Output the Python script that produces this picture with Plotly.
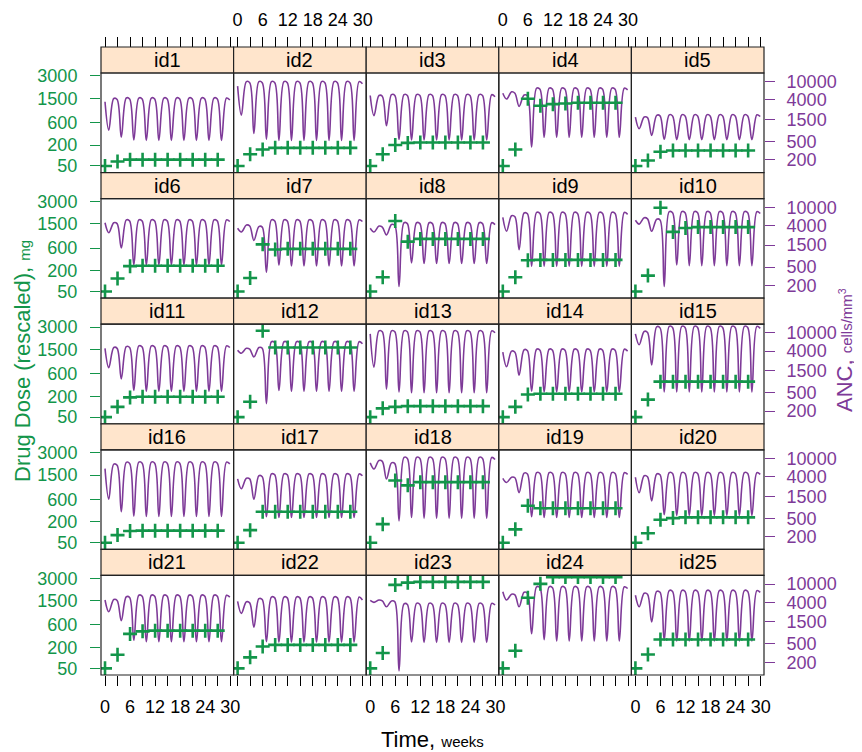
import plotly.graph_objects as go

# ---------------- data ----------------
panel_ids = ["id%d" % i for i in range(1, 26)]

dose_weeks = [0, 3, 6, 9, 12, 15, 18, 21, 24, 27]
# ANC read at: start, then per 3-week cycle: nadir, peak, pre-dose level
anc_weeks = [0,
             0.9, 2.1, 2.9, 3.9, 5.1, 5.9, 6.9, 8.1, 8.9, 9.9, 11.1, 11.9,
             12.9, 14.1, 14.9, 15.9, 17.1, 17.9, 18.9, 20.1, 20.9, 21.9, 23.1, 23.9,
             24.9, 26.1, 26.9, 27.9, 29.1, 29.9]

week_ticks = [0, 3, 6, 9, 12, 15, 18, 21, 24, 27, 30]
week_labels = ["0", "", "6", "", "12", "", "18", "", "24", "", "30"]
dose_ticks = [50, 200, 600, 1500, 3000]
anc_ticks = [200, 500, 1500, 4000, 10000]

# drug dose (mg) at each dosing week
dose_id1 = [50, 70, 80, 80, 80, 80, 80, 80, 80, 80]
dose_id2 = [50, 115, 155, 170, 170, 170, 170, 170, 170, 170]
dose_id3 = [50, 115, 200, 225, 230, 230, 230, 230, 230, 230]
dose_id4 = [50, 155, 1470, 1150, 1220, 1250, 1280, 1280, 1280, 1280]
dose_id5 = [50, 75, 135, 145, 145, 145, 145, 145, 145, 145]
dose_id6 = [50, 125, 255, 260, 260, 260, 260, 260, 260, 260]
dose_id7 = [50, 130, 700, 565, 580, 580, 580, 580, 580, 580]
dose_id8 = [50, 135, 1650, 780, 870, 870, 870, 870, 870, 870]
dose_id9 = [50, 135, 345, 350, 350, 350, 350, 350, 350, 350]
dose_id10 = [50, 150, 2500, 1130, 1300, 1340, 1340, 1340, 1340, 1340]
dose_id11 = [50, 105, 187, 195, 195, 195, 195, 195, 195, 195]
dose_id12 = [50, 145, 2700, 1600, 1600, 1600, 1600, 1600, 1600, 1600]
dose_id13 = [50, 95, 105, 110, 110, 110, 110, 110, 110, 110]
dose_id14 = [50, 105, 220, 230, 230, 230, 230, 230, 230, 230]
dose_id15 = [50, 165, 420, 420, 420, 420, 420, 420, 420, 420]
dose_id16 = [50, 88, 115, 118, 118, 118, 118, 118, 118, 118]
dose_id17 = [50, 122, 340, 340, 340, 340, 340, 340, 340, 340]
dose_id18 = [50, 175, 1240, 1040, 1170, 1170, 1170, 1170, 1170, 1170]
dose_id19 = [50, 128, 450, 400, 400, 400, 400, 400, 400, 400]
dose_id20 = [50, 100, 225, 245, 255, 255, 255, 255, 255, 255]
dose_id21 = [50, 130, 400, 450, 465, 465, 465, 465, 465, 465]
dose_id22 = [50, 110, 210, 230, 230, 230, 230, 230, 230, 230]
dose_id23 = [50, 145, 2470, 2640, 2700, 2700, 2700, 2700, 2700, 2700]
dose_id24 = [50, 165, 1650, 2550, 3100, 3100, 3100, 3100, 3100, 3100]
dose_id25 = [50, 132, 305, 305, 305, 305, 305, 305, 305, 305]

# ANC (cells/mm3) at anc_weeks
anc_id1 = [3650, 880, 4300, 4100, 620, 4400, 4200, 540, 4400, 4200, 530, 4400, 4200,
           530, 4400, 4200, 530, 4400, 4200, 530, 4400, 4200, 530, 4400, 4200,
           530, 4400, 4200, 530, 4400, 4000]
anc_id2 = [8000, 1870, 10000, 9500, 750, 10000, 9500, 560, 10000, 9500, 530, 10000, 9500,
           530, 10000, 9500, 530, 10000, 9500, 530, 10000, 9500, 530, 10000, 9500,
           530, 10000, 9500, 530, 10000, 9000]
anc_id3 = [5000, 1830, 5000, 4800, 1100, 5200, 5000, 560, 5200, 5000, 540, 5200, 5000,
           540, 5200, 5000, 540, 5200, 5000, 540, 5200, 5000, 540, 5200, 5000,
           540, 5200, 5000, 540, 5200, 4700]
anc_id4 = [5600, 4200, 6000, 5600, 2900, 5100, 4900, 380, 7200, 6800, 620, 7200, 6800,
           620, 7200, 6800, 620, 7200, 6800, 620, 7200, 6800, 620, 7200, 6800,
           620, 7200, 6800, 620, 7200, 6600]
anc_id5 = [1700, 950, 1700, 1650, 680, 1850, 1800, 560, 1900, 1800, 550, 1900, 1800,
           550, 1900, 1800, 550, 1900, 1800, 550, 1900, 1800, 550, 1900, 1800,
           550, 1900, 1800, 550, 1900, 1750]
anc_id6 = [4600, 2800, 4600, 4400, 1300, 5300, 5000, 560, 5300, 5000, 560, 5300, 5000,
           560, 5300, 5000, 560, 5300, 5000, 560, 5300, 5000, 560, 5300, 5000,
           560, 5300, 5000, 560, 5300, 4900]
anc_id7 = [3500, 2900, 4100, 3900, 1900, 3800, 3700, 390, 5300, 5000, 550, 5300, 5000,
           530, 5300, 5000, 530, 5300, 5000, 530, 5300, 5000, 530, 5300, 5000,
           530, 5300, 5000, 530, 5300, 4900]
anc_id8 = [3500, 2900, 3900, 3700, 2500, 4200, 4000, 190, 4600, 4400, 620, 4600, 4400,
           600, 4600, 4400, 600, 4600, 4400, 600, 4600, 4400, 600, 4600, 4400,
           600, 4600, 4400, 600, 4600, 4200]
anc_id9 = [6000, 3000, 6500, 6200, 1200, 7500, 7200, 520, 7700, 7300, 520, 7700, 7300,
           520, 7700, 7300, 520, 7700, 7300, 520, 7700, 7300, 520, 7700, 7300,
           520, 7700, 7300, 520, 7700, 7000]
anc_id10 = [5200, 4300, 5900, 5600, 3000, 5500, 5300, 190, 8000, 7600, 560, 8000, 7600,
            540, 8000, 7600, 540, 8000, 7600, 540, 8000, 7600, 540, 8000, 7600,
            540, 8000, 7600, 540, 8000, 7300]
anc_id11 = [4600, 1750, 4800, 4600, 1000, 5000, 4800, 560, 5200, 4900, 540, 5200, 4900,
            540, 5200, 4900, 540, 5200, 4900, 540, 5200, 4900, 540, 5200, 4900,
            540, 5200, 4900, 540, 5200, 4800]
anc_id12 = [4200, 3600, 4600, 4400, 3000, 4800, 4600, 290, 6400, 6100, 560, 6400, 6100,
            540, 6400, 6100, 540, 6400, 6100, 540, 6400, 6100, 540, 6400, 6100,
            540, 6400, 6100, 540, 6400, 5800]
anc_id13 = [9500, 1800, 11000, 10500, 600, 11000, 10500, 520, 11000, 10500, 500, 11000, 10500,
            500, 11000, 10500, 500, 11000, 10500, 500, 11000, 10500, 500, 11000, 10500,
            500, 11000, 10500, 500, 11000, 10000]
anc_id14 = [3800, 1830, 4000, 3800, 1200, 4300, 4100, 540, 4400, 4200, 520, 4400, 4200,
            520, 4400, 4200, 520, 4400, 4200, 520, 4400, 4200, 520, 4400, 4200,
            520, 4400, 4200, 520, 4400, 4000]
anc_id15 = [9500, 5500, 10700, 10200, 2000, 13500, 12800, 520, 13800, 13000, 520, 13800, 13000,
            520, 13800, 13000, 520, 13800, 13000, 520, 13800, 13000, 520, 13800, 13000,
            520, 13800, 13000, 520, 13800, 12500]
anc_id16 = [6000, 1300, 7500, 7100, 700, 8200, 7800, 560, 8300, 7900, 550, 8300, 7900,
            550, 8300, 7900, 550, 8300, 7900, 550, 8300, 7900, 550, 8300, 7900,
            550, 8300, 7900, 550, 8300, 7600]
anc_id17 = [3600, 2200, 3700, 3600, 1300, 4200, 4000, 540, 4600, 4400, 520, 4600, 4400,
            520, 4600, 4400, 520, 4600, 4400, 520, 4600, 4400, 520, 4600, 4400,
            520, 4600, 4400, 520, 4600, 4200]
anc_id18 = [8000, 5900, 9000, 8600, 3600, 8000, 7700, 440, 10500, 10000, 520, 10500, 10000,
            500, 10500, 10000, 500, 10500, 10000, 500, 10500, 10000, 500, 10500, 10000,
            500, 10500, 10000, 500, 10500, 9500]
anc_id19 = [3700, 3000, 3900, 3800, 1800, 4800, 4600, 540, 4900, 4700, 520, 4900, 4700,
            520, 4900, 4700, 520, 4900, 4700, 520, 4900, 4700, 520, 4900, 4700,
            520, 4900, 4700, 520, 4900, 4500]
anc_id20 = [3900, 1800, 4200, 4000, 1200, 4600, 4400, 600, 4900, 4700, 580, 4900, 4700,
            580, 4900, 4700, 580, 4900, 4700, 580, 4900, 4700, 580, 4900, 4700,
            580, 4900, 4700, 580, 4900, 4500]
anc_id21 = [4500, 2500, 4600, 4400, 1600, 5300, 5100, 600, 5700, 5400, 560, 5700, 5400,
            560, 5700, 5400, 560, 5700, 5400, 560, 5700, 5400, 560, 5700, 5400,
            560, 5700, 5400, 560, 5700, 5200]
anc_id22 = [4200, 2300, 4100, 3900, 1150, 4800, 4600, 560, 5200, 5000, 550, 5200, 5000,
            550, 5200, 5000, 550, 5200, 5000, 550, 5200, 5000, 550, 5200, 5000,
            550, 5200, 5000, 550, 5200, 4500]
anc_id23 = [4400, 4000, 4500, 4300, 3200, 4300, 4100, 130, 3700, 3600, 550, 3800, 3600,
            540, 3800, 3600, 540, 3800, 3600, 540, 3800, 3600, 540, 3800, 3600,
            540, 3800, 3600, 540, 3800, 3500]
anc_id24 = [6800, 4500, 6000, 5800, 3200, 6600, 6300, 830, 8700, 8300, 620, 8700, 8300,
            580, 8700, 8300, 580, 8700, 8300, 580, 8700, 8300, 580, 8700, 8300,
            580, 8700, 8300, 580, 8700, 8000]
anc_id25 = [5700, 3200, 6300, 6000, 1500, 6900, 6600, 600, 7200, 6900, 580, 7200, 6900,
            580, 7200, 6900, 580, 7200, 6900, 580, 7200, 6900, 580, 7200, 6900,
            580, 7200, 6900, 580, 7200, 6600]

dose_all = [dose_id1, dose_id2, dose_id3, dose_id4, dose_id5, dose_id6, dose_id7,
            dose_id8, dose_id9, dose_id10, dose_id11, dose_id12, dose_id13, dose_id14,
            dose_id15, dose_id16, dose_id17, dose_id18, dose_id19, dose_id20, dose_id21,
            dose_id22, dose_id23, dose_id24, dose_id25]
anc_all = [anc_id1, anc_id2, anc_id3, anc_id4, anc_id5, anc_id6, anc_id7, anc_id8,
           anc_id9, anc_id10, anc_id11, anc_id12, anc_id13, anc_id14, anc_id15,
           anc_id16, anc_id17, anc_id18, anc_id19, anc_id20, anc_id21, anc_id22,
           anc_id23, anc_id24, anc_id25]

# ---------------- style / layout ----------------
# the page body has an 8px margin, so the figure starts at (8, 8)
OFF = 8.0
W, H = 854, 744
GREEN = "#13954A"
PURPLE = "#7E3A98"
STRIP = "#FFE5CC"
FONT = "Liberation Sans, Arial, sans-serif"

COL_LEFT0, COL_W = 101.0 - OFF, 132.6
ROW_TOP0, ROW_H, STRIP_H = 47.0 - OFF, 125.6, 26.0
XR = [-0.96, 30.8]
DOSE_R = [2.31, 7.55]      # rescaled dose axis (dose ** 0.25)
ANC_R = [2.025, 4.187]     # log10 ANC


def qdose(v):
    return v ** 0.25


fig = go.Figure()
layout = {}
shapes = []
annotations = []

for p in range(25):
    r, c = divmod(p, 5)
    xl = COL_LEFT0 + c * COL_W
    xr = xl + COL_W
    st = ROW_TOP0 + r * ROW_H
    pt = st + STRIP_H
    pb = st + ROW_H
    xd = [xl / W, xr / W]
    yd = [1 - pb / H, 1 - pt / H]

    xn = p + 1
    ya_n = 2 * p + 1
    yd_n = 2 * p + 2
    xref = "x" if xn == 1 else "x%d" % xn
    yref_anc = "y" if ya_n == 1 else "y%d" % ya_n
    yref_dose = "y%d" % yd_n

    fig.add_trace(go.Scatter(
        x=anc_weeks, y=anc_all[p], mode="lines",
        line=dict(color=PURPLE, width=1.6, shape="spline", smoothing=1.0),
        xaxis=xref, yaxis=yref_anc, showlegend=False, hoverinfo="skip"))
    fig.add_trace(go.Scatter(
        x=dose_weeks, y=[qdose(v) for v in dose_all[p]], mode="markers",
        marker=dict(symbol="cross-thin", size=10, color=GREEN,
                    line=dict(color=GREEN, width=2.6)),
        xaxis=xref, yaxis=yref_dose, showlegend=False, hoverinfo="skip"))

    xa = dict(domain=xd, range=XR, showgrid=False, zeroline=False, showline=False,
              automargin=False,
              tickmode="array", tickvals=week_ticks, ticktext=week_labels,
              tickfont=dict(size=18, color="black", family=FONT),
              ticklen=10, tickwidth=1, tickcolor="black", ticks="",
              showticklabels=False)
    if r == 4:
        xa.update(anchor=yref_anc, side="bottom", ticks="outside",
                  showticklabels=(c % 2 == 0), ticklabelstandoff=5)
    elif r == 0:
        xa.update(anchor="free", position=1 - st / H, side="top", ticks="outside",
                  showticklabels=(c % 2 == 1), ticklabelstandoff=4)
    else:
        xa.update(anchor=yref_anc)
    layout["xaxis" if xn == 1 else "xaxis%d" % xn] = xa

    ya = dict(domain=yd, type="log", range=ANC_R, anchor=xref, side="right",
              showgrid=False, zeroline=False, showline=False, automargin=False,
              tickmode="array", tickvals=anc_ticks,
              ticktext=[str(v) for v in anc_ticks],
              tickfont=dict(size=18, color=PURPLE, family=FONT),
              ticklen=10, tickwidth=1.2, tickcolor=PURPLE,
              ticks="outside" if c == 4 else "", showticklabels=(c == 4),
              ticklabelstandoff=8)
    layout["yaxis" if ya_n == 1 else "yaxis%d" % ya_n] = ya

    yb = dict(overlaying=yref_anc, range=DOSE_R, anchor=xref, side="left",
              showgrid=False, zeroline=False, showline=False, automargin=False,
              tickmode="array", tickvals=[qdose(v) for v in dose_ticks],
              ticktext=[str(v) for v in dose_ticks],
              tickfont=dict(size=18, color=GREEN, family=FONT),
              ticklen=10, tickwidth=1.2, tickcolor=GREEN,
              ticks="outside" if c == 0 else "", showticklabels=(c == 0),
              ticklabelstandoff=9)
    layout["yaxis%d" % yd_n] = yb

    shapes.append(dict(type="rect", xref="paper", yref="paper",
                       x0=xl / W, x1=xr / W, y0=1 - pt / H, y1=1 - st / H,
                       fillcolor=STRIP, line=dict(color="#222222", width=1.2),
                       layer="above"))
    shapes.append(dict(type="rect", xref="paper", yref="paper",
                       x0=xl / W, x1=xr / W, y0=1 - pb / H, y1=1 - pt / H,
                       line=dict(color="#222222", width=1.2), layer="above"))
    annotations.append(dict(text=panel_ids[p], xref="paper", yref="paper",
                            x=(xl + xr) / 2 / W, y=1 - (st + STRIP_H / 2) / H,
                            showarrow=False, xanchor="center", yanchor="middle",
                            font=dict(size=20, color="black", family=FONT)))

annotations.append(dict(
    text="Drug Dose (rescaled), <span style='font-size:15px'>mg</span>",
    xref="paper", yref="paper", x=(22 - OFF) / W, y=1 - (361 - OFF) / H, textangle=-90,
    showarrow=False, xanchor="center", yanchor="middle",
    font=dict(size=22, color=GREEN, family=FONT)))
annotations.append(dict(
    text="ANC, <span style='font-size:15px'>cells/mm<sup>3</sup></span>",
    xref="paper", yref="paper", x=(844 - OFF) / W, y=1 - (350 - OFF) / H, textangle=-90,
    showarrow=False, xanchor="center", yanchor="middle",
    font=dict(size=22, color=PURPLE, family=FONT)))
annotations.append(dict(
    text="Time, <span style='font-size:15px'>weeks</span>",
    xref="paper", yref="paper", x=(432.5 - OFF) / W, y=1 - (739 - OFF) / H,
    showarrow=False, xanchor="center", yanchor="middle",
    font=dict(size=22, color="black", family=FONT)))

layout.update(dict(width=W, height=H, margin=dict(l=0, r=0, t=0, b=0, autoexpand=False),
                   paper_bgcolor="white", plot_bgcolor="white",
                   font=dict(family=FONT), shapes=shapes,
                   annotations=annotations, showlegend=False))
fig.update_layout(**layout)
fig.write_html("out.html")
